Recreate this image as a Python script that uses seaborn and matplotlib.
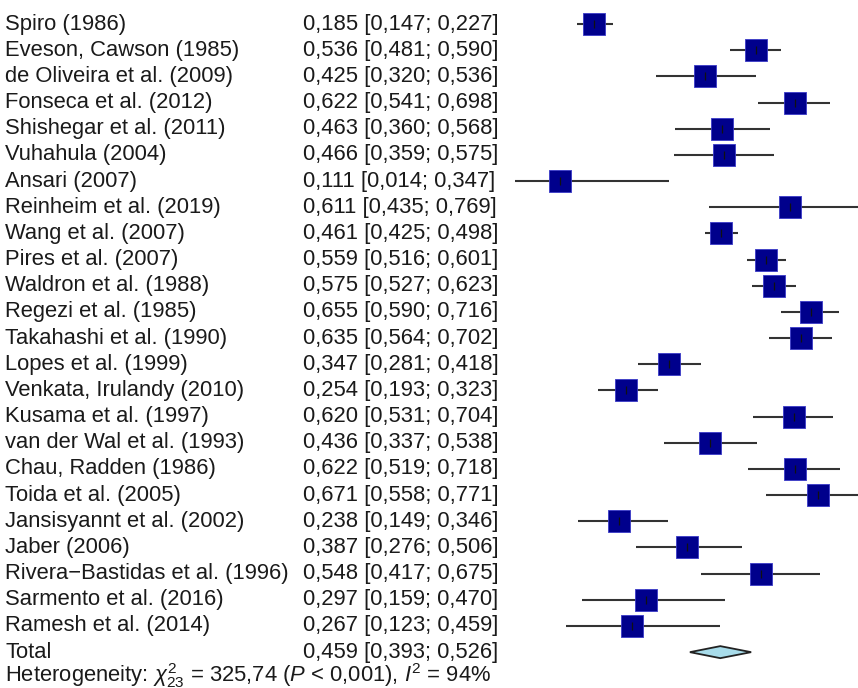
import matplotlib.pyplot as plt
import seaborn as sns
import pandas as pd

studies = [
    "Spiro (1986)", "Eveson, Cawson (1985)", "de Oliveira et al. (2009)",
    "Fonseca et al. (2012)", "Shishegar et al. (2011)", "Vuhahula (2004)",
    "Ansari (2007)", "Reinheim et al. (2019)", "Wang et al. (2007)",
    "Pires et al. (2007)", "Waldron et al. (1988)", "Regezi et al. (1985)",
    "Takahashi et al. (1990)", "Lopes et al. (1999)", "Venkata, Irulandy (2010)",
    "Kusama et al. (1997)", "van der Wal et al. (1993)", "Chau, Radden (1986)",
    "Toida et al. (2005)", "Jansisyannt et al. (2002)", "Jaber (2006)",
    "Rivera\u2212Bastidas et al. (1996)", "Sarmento et al. (2016)", "Ramesh et al. (2014)",
]
est = [0.185, 0.536, 0.425, 0.622, 0.463, 0.466, 0.111, 0.611, 0.461, 0.559,
       0.575, 0.655, 0.635, 0.347, 0.254, 0.620, 0.436, 0.622, 0.671, 0.238,
       0.387, 0.548, 0.297, 0.267]
lower = [0.147, 0.481, 0.320, 0.541, 0.360, 0.359, 0.014, 0.435, 0.425, 0.516,
         0.527, 0.590, 0.564, 0.281, 0.193, 0.531, 0.337, 0.519, 0.558, 0.149,
         0.276, 0.417, 0.159, 0.123]
upper = [0.227, 0.590, 0.536, 0.698, 0.568, 0.575, 0.347, 0.769, 0.498, 0.601,
         0.623, 0.716, 0.702, 0.418, 0.323, 0.704, 0.538, 0.718, 0.771, 0.346,
         0.506, 0.675, 0.470, 0.459]
total_est, total_lo, total_hi = 0.459, 0.393, 0.526
heterogeneity = r"Heterogeneity: $\chi^2_{23}$ = 325,74 ($P$ < 0,001), $I^2$ = 94%"


def fmt(v):
    return f"{v:.3f}".replace(".", ",")


df = pd.DataFrame({"study": studies, "est": est, "lower": lower, "upper": upper})
df["row"] = range(len(df))

sns.set_style("white")
plt.rcParams["font.family"] = ["Liberation Sans", "DejaVu Sans"]
plt.rcParams["mathtext.fontset"] = "custom"
plt.rcParams["mathtext.rm"] = "Liberation Sans"
plt.rcParams["mathtext.it"] = "Liberation Sans:italic"

fig = plt.figure(figsize=(8.58, 6.88), dpi=100)
ax = fig.add_axes([0, 0, 1, 1])

# confidence intervals
ax.hlines(df["row"], df["lower"], df["upper"], color="#333333", lw=1.5, zorder=1)
sns.scatterplot(data=df, x="est", y="row", marker="s", s=235, color="#00008c",
                edgecolor="#3a3ac8", linewidth=0.6, ax=ax, zorder=2, legend=False)
sns.scatterplot(data=df, x="est", y="row", marker="|", s=30, color="#111111",
                linewidth=0.9, ax=ax, zorder=3, legend=False)

total_row = len(df)
ax.fill([total_lo, total_est, total_hi, total_est],
        [total_row, total_row - 0.23, total_row, total_row + 0.23],
        facecolor="#a8dcea", edgecolor="#222222", lw=1.3, zorder=2)

tr = ax.get_yaxis_transform()
txt = dict(fontsize=15.8, color="#1a1a1a", va="center", transform=tr)
for i, r in df.iterrows():
    ax.text(0.006, r["row"], r["study"], **txt)
    ax.text(0.353, r["row"], f"{fmt(r['est'])} [{fmt(r['lower'])}; {fmt(r['upper'])}]", **txt)
ax.text(0.006, total_row, "Total", **txt)
ax.text(0.353, total_row, f"{fmt(total_est)} [{fmt(total_lo)}; {fmt(total_hi)}]", **txt)
ax.text(0.006, total_row + 0.88, heterogeneity, **txt)

ax.set_xlim(-1.105, 0.758)
ax.set_ylim(25.37, -0.92)
ax.axis("off")

fig.savefig("out.png", dpi=100)
plt.close(fig)
